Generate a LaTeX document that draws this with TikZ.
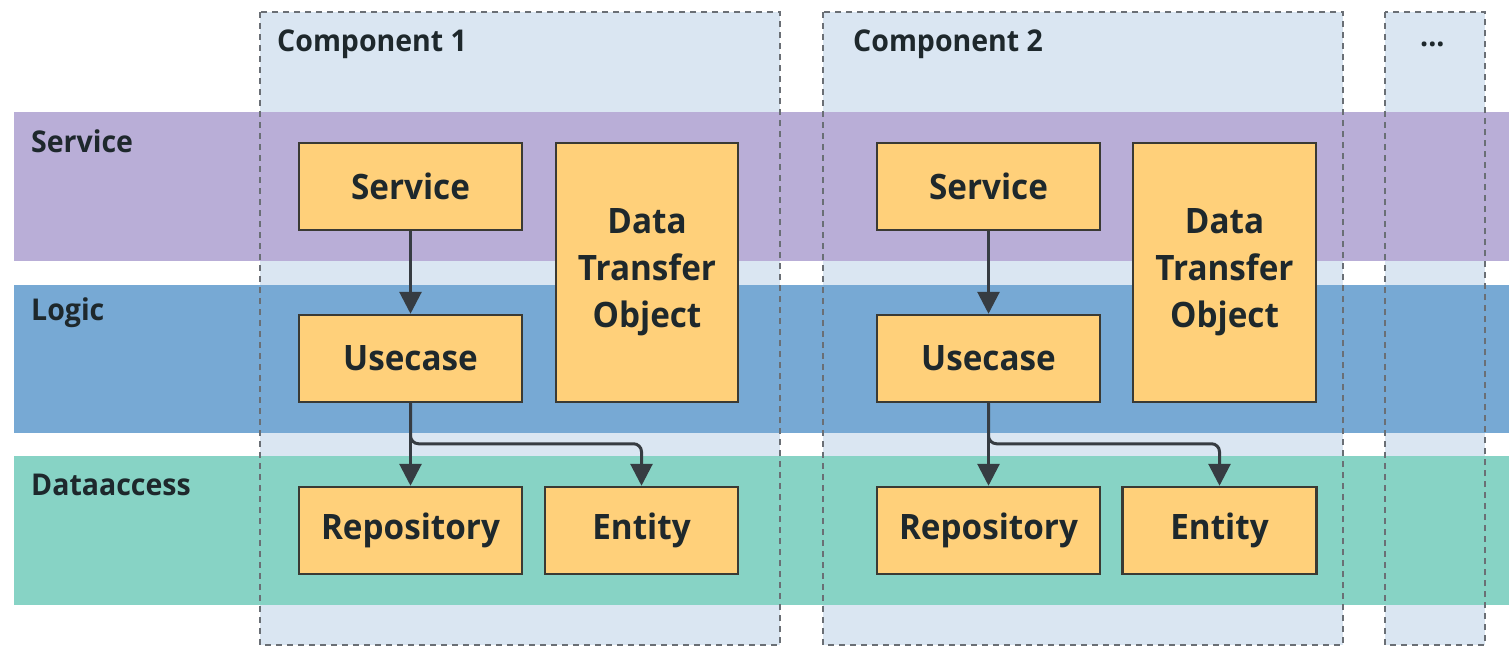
\documentclass[tikz,border=0pt]{standalone}
\usepackage{fontspec}
\setmainfont{Open Sans}[FakeStretch=0.95]
\usetikzlibrary{arrows.meta}

\definecolor{compfill}{HTML}{DAE6F2}
\definecolor{compedge}{HTML}{6A6F75}
\definecolor{servband}{HTML}{B9AED7}
\definecolor{logicband}{HTML}{77A9D4}
\definecolor{databand}{HTML}{87D3C5}
\definecolor{boxfill}{HTML}{FFD07A}
\definecolor{boxedge}{HTML}{3A3A34}
\definecolor{ink}{HTML}{1E282C}
\definecolor{wire}{HTML}{363C42}

\tikzset{
  comp/.style={fill=compfill},
  compborder/.style={draw=compedge, line width=1.5pt, dash pattern=on 6pt off 5pt},
  block/.style={draw=boxedge, fill=boxfill, line width=2.5pt, inner sep=0pt,
    text=ink, font=\bfseries\fontsize{35}{47}\selectfont, align=center},
  bandlabel/.style={anchor=west, inner sep=0pt, text=ink, font=\bfseries\fontsize{30}{34}\selectfont},
  complabel/.style={anchor=west, inner sep=0pt, text=ink, font=\bfseries\fontsize{30}{34}\selectfont},
  flow/.style={draw=wire, line width=3pt, -{Triangle[length=22pt,width=22pt]}},
}

\begin{document}
\begin{tikzpicture}[x=1pt,y=-1pt]
\useasboundingbox (0,0) rectangle (1509,648);

% component columns (background)
\fill[comp] (260,12) rectangle (780,645);
\fill[comp] (823,12) rectangle (1343,645);
\fill[comp] (1385,12) rectangle (1485,645);

% layer bands
\fill[servband]  (14,112) rectangle (1509,261);
\fill[logicband] (14,285) rectangle (1509,433);
\fill[databand]  (14,456) rectangle (1509,605);

% component borders
\draw[compborder] (260,12) rectangle (780,645);
\draw[compborder] (823,12) rectangle (1343,645);
\draw[compborder] (1385,12) rectangle (1485,645);

% labels
\node[complabel] (c1label) at (277,44) {Component 1};
\node[complabel] (c2label) at (853,44) {Component 2};
\node[complabel] (c3label) at (1420,44) {...};
\node[bandlabel] (lservice) at (31,141) {Service};
\node[bandlabel] (llogic) at (31,313) {Logic};
\node[bandlabel] (ldata) at (31,485) {Dataaccess};

% component 1
\node[block, minimum width=223pt, minimum height=87pt] (s1) at (410.5,186.5) {Service};
\node[block, minimum width=182pt, minimum height=259pt] (d1) at (647,272.5) {Data\\Transfer\\Object};
\node[block, minimum width=223pt, minimum height=87pt] (u1) at (410.5,358.5) {Usecase};
\node[block, minimum width=223pt, minimum height=87pt] (r1) at (410.5,530.5) {Repository};
\node[block, minimum width=193pt, minimum height=87pt] (e1) at (641.5,530.5) {Entity};

% component 2
\node[block, minimum width=223pt, minimum height=87pt] (s2) at (988.5,186.5) {Service};
\node[block, minimum width=183pt, minimum height=259pt] (d2) at (1224.5,272.5) {Data\\Transfer\\Object};
\node[block, minimum width=223pt, minimum height=87pt] (u2) at (988.5,358.5) {Usecase};
\node[block, minimum width=223pt, minimum height=87pt] (r2) at (988.5,530.5) {Repository};
\node[block, minimum width=194pt, minimum height=87pt] (e2) at (1219.5,530.5) {Entity};

% dependencies
\draw[flow] (s1) -- (u1);
\draw[flow] (u1) -- (r1);
\draw[flow, rounded corners=8pt] (u1.south) |- ([yshift=42pt]e1.north) -- (e1.north);
\draw[flow] (s2) -- (u2);
\draw[flow] (u2) -- (r2);
\draw[flow, rounded corners=8pt] (u2.south) |- ([yshift=42pt]e2.north) -- (e2.north);
\end{tikzpicture}
\end{document}
